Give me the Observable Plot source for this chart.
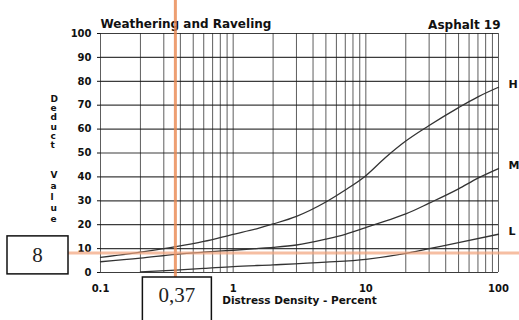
<!DOCTYPE html>
<html><head><meta charset="utf-8">
<script src="https://cdn.jsdelivr.net/npm/d3@7"></script>
<script src="https://cdn.jsdelivr.net/npm/@observablehq/plot@0.6"></script>
<style>
body{margin:0;background:#fff;}
#chart{width:519px;height:320px;overflow:hidden;}
</style></head><body><div id="chart"></div>
<script>
// ---- data ----
const densityHM = [0.1, 0.2, 0.37, 0.6, 1, 1.5, 2, 3, 5, 7, 10, 14, 20, 30, 50, 70, 100];
const highValues = [6.3, 8.5, 10.8, 13, 16, 18.3, 20.3, 23.5, 29.5, 34.5, 40.5, 48, 55, 61.5, 69, 73.5, 77.5];
const mediumValues = [4.5, 6, 7.6, 8.5, 9.3, 10, 10.5, 11.5, 14, 16, 18.8, 21.5, 24.5, 29, 35, 39.5, 43.5];
const densityL = [0.2, 0.37, 0.6, 1, 2, 5, 10, 20, 30, 50, 100];
const lowValues = [0.3, 1, 1.7, 2.5, 3.2, 4.3, 5.5, 8, 10, 12.5, 16];
const levels = ["H", "M", "L"];
const xGridTicks = [0.1,0.2,0.3,0.4,0.5,0.6,0.7,0.8,0.9,1,2,3,4,5,6,7,8,9,10,20,30,40,50,60,70,80,90,100];
const xLabelTicks = [0.1, 1, 10, 100];
const yTicks = [0,10,20,30,40,50,60,70,80,90,100];
const titleText = "Weathering and Raveling";
const sheetText = "Asphalt 19";
const xLabel = "Distress Density - Percent";
const yLabelTop = "Deduct";
const yLabelBottom = "Value";
const readX = 0.37, readXText = "0,37";
const readY = 8, readYText = "8";

const rows = [];
densityHM.forEach((x, i) => rows.push({x, y: highValues[i], level: levels[0]}));
densityHM.forEach((x, i) => rows.push({x, y: mediumValues[i], level: levels[1]}));
densityL.forEach((x, i) => rows.push({x, y: lowValues[i], level: levels[2]}));

const plot = Plot.plot({
  width: 519, height: 320,
  marginLeft: 100, marginRight: 21, marginTop: 33, marginBottom: 48,
  x: {type: "log", domain: [0.1, 100]},
  y: {domain: [0, 100]},
  style: {fontFamily: "DejaVu Sans", fontWeight: "bold", background: "white", color: "#111"},
  marks: [
    Plot.gridX(xGridTicks, {stroke: "#1a1a1a", strokeOpacity: 0.7, strokeWidth: 1}),
    Plot.gridY(yTicks, {stroke: "#1a1a1a", strokeOpacity: 0.85, strokeWidth: 1.2}),
    Plot.axisY(yTicks, {tickSize: 3, tickPadding: 6, fontSize: 10, label: null}),
    Plot.axisX(xLabelTicks, {tickSize: 0, tickPadding: 12, fontSize: 10, tickFormat: d => String(d), label: null}),
    Plot.line(rows, {x: "x", y: "y", z: "level", curve: "monotone-x", stroke: "#333", strokeWidth: 1.3}),
    Plot.text(rows, Plot.selectLast({x: "x", y: "y", z: "level", text: "level", dx: 10, dy: -3, textAnchor: "start", fontSize: 11})),
    Plot.text([titleText], {frameAnchor: "top-left", textAnchor: "start", dy: -14.5, fontSize: 12}),
    Plot.text([sheetText], {frameAnchor: "top-right", textAnchor: "end", dx: 2, dy: -13, fontSize: 12}),
    Plot.text([xLabel], {frameAnchor: "bottom", dy: 31, fontSize: 10.5}),
    Plot.text([yLabelTop.split("").join("\n")], {frameAnchor: "top-left", dx: -50, dy: 62, fontSize: 9, lineHeight: 1.02}),
    Plot.text([yLabelBottom.split("").join("\n")], {frameAnchor: "top-left", dx: -50, dy: 137, fontSize: 9, lineHeight: 1.22})
  ]
});

document.getElementById("chart").appendChild(plot);

// reading annotations, positioned from the plot's scales
const svg = d3.select(plot);
const px = plot.scale("x").apply(readX);
const py = plot.scale("y").apply(readY);
svg.append("line").attr("x1", px).attr("x2", px).attr("y1", 0).attr("y2", 277)
  .attr("stroke", "#e8874f").attr("stroke-width", 3).attr("stroke-opacity", 0.8);
svg.append("line").attr("x1", 68).attr("x2", 519).attr("y1", py).attr("y2", py)
  .attr("stroke", "#f2a27a").attr("stroke-width", 3).attr("stroke-opacity", 0.7);

svg.append("rect").attr("x", 7).attr("y", py - 17).attr("width", 61).attr("height", 38)
  .attr("fill", "white").attr("stroke", "#111").attr("stroke-width", 1.5);
svg.append("text").attr("x", 37.5).attr("y", py + 9).attr("text-anchor", "middle")
  .attr("font-family", "Liberation Serif").attr("font-weight", "normal").attr("font-size", 21)
  .attr("fill", "#222").text(readYText);

svg.append("rect").attr("x", px - 33).attr("y", 277).attr("width", 69).attr("height", 60)
  .attr("fill", "white").attr("stroke", "#111").attr("stroke-width", 1.5);
svg.append("text").attr("x", px + 1.5).attr("y", 302).attr("text-anchor", "middle")
  .attr("font-family", "Liberation Serif").attr("font-weight", "normal").attr("font-size", 21)
  .attr("fill", "#222").text(readXText);
</script>
</body></html>
